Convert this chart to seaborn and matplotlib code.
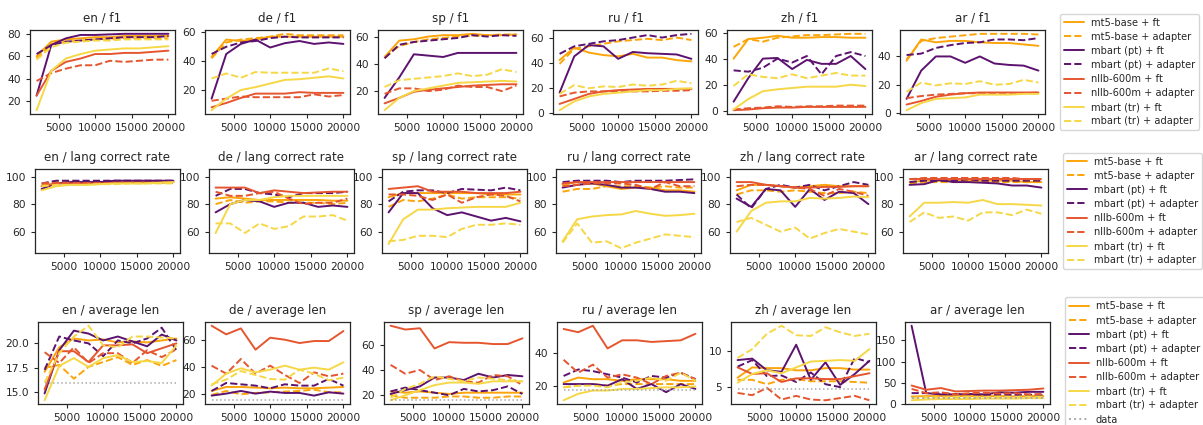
import matplotlib
matplotlib.use("Agg")
import matplotlib.pyplot as plt
from matplotlib.ticker import MaxNLocator
import pandas as pd
import seaborn as sns

sizes = [2000, 4000, 6000, 8000, 10000, 12000, 14000, 16000, 18000, 20000]
langs = ["en", "de", "sp", "ru", "zh", "ar"]
metrics = ["f1", "lang correct rate", "average len"]
models = ["mt5-base + ft", "mt5-base + adapter", "mbart (pt) + ft", "mbart (pt) + adapter",
          "nllb-600m + ft", "nllb-600m + adapter", "mbart (tr) + ft", "mbart (tr) + adapter"]
model_colors = ["#fca50a", "#fca50a", "#5c126e", "#5c126e",
                "#e5562f", "#e5562f", "#f6d746", "#f6d746"]

# ---- f1 (one list per model, in the order of `models`)
f1_en = [[60, 73, 75, 76, 77, 77, 78, 78, 78, 78],
         [58, 71, 73, 74, 75, 75, 76, 76, 76, 76],
         [25, 70, 76, 79, 79, 79.5, 80, 80, 80, 80],
         [62, 70, 73, 74, 75, 76, 77, 77, 77, 78],
         [25, 47, 55, 58, 62, 62, 63, 63, 64, 65],
         [38, 45, 49, 52, 52, 56, 55, 56, 57, 57],
         [12, 47, 58, 62, 65, 66, 67, 67, 68, 69],
         [57, 68, 72, 73, 74, 74, 75, 75, 75, 75]]
f1_de = [[43, 55, 54, 55, 57, 57, 57, 57, 57, 57],
         [42, 53, 55, 56, 57, 59, 58, 58, 58, 58],
         [14, 45, 52, 55, 49.5, 52.5, 54, 52, 53, 52],
         [45, 50, 53, 54, 56, 57, 56.5, 56.5, 56.5, 56.5],
         [8, 11, 14.5, 17.5, 17.5, 17.5, 18.5, 18, 18, 18],
         [12.5, 14, 15.5, 15, 15, 15, 15, 17, 15.5, 16.5],
         [6, 14, 20, 22, 24.5, 27, 27.5, 28.5, 29.5, 28],
         [28, 31.5, 28.5, 32.5, 32, 32, 32, 32, 35, 33]]
f1_sp = [[45, 57, 58, 60, 61, 61, 62, 61, 61, 61.5],
         [45, 53, 56, 58, 59, 60, 60.5, 61, 61.5, 61.5],
         [15, 30, 47, 46, 45, 48, 48, 48, 48, 48],
         [44, 54, 56, 57, 58, 59, 61, 60, 61, 60.5],
         [11, 15, 19.5, 21, 22, 23, 24, 24.5, 25, 25],
         [18, 22, 22, 20, 21, 24, 23, 23, 20, 24],
         [6, 15, 20, 22, 24, 26, 26.5, 27, 27.5, 27],
         [23, 28, 29, 30, 31, 33, 31, 32, 36, 34]]
f1_ru = [[42, 52, 48, 46, 45, 47, 44, 44, 42, 41],
         [39, 51, 53, 55, 57, 58, 59, 58, 60, 58],
         [16, 45, 54, 53, 43, 48.5, 47.5, 47, 46.5, 43],
         [47, 53, 55, 57, 58, 60, 62, 60, 62, 63],
         [7, 11, 15, 17, 18, 18.5, 19, 19, 19, 19],
         [13, 16, 17, 17, 17, 17, 17, 17.5, 17.5, 18],
         [2, 9, 13, 15, 16, 17, 18, 18, 19, 19.5],
         [15, 22, 19.5, 21, 20.5, 22.5, 21.5, 22.5, 25.5, 23.5]]
f1_zh = [[40, 55, 56, 57.5, 56, 56, 56.5, 56.5, 56, 56],
         [49, 55, 53, 56, 57, 58, 58, 58.5, 59, 59],
         [7, 25, 40, 40.5, 32, 39, 36, 36, 42, 32],
         [31, 30, 33, 40, 37, 42, 28, 42, 45, 42],
         [0.5, 1, 2, 2.5, 2.5, 3, 3, 3, 3, 3],
         [1, 2, 2.5, 3.5, 3, 3.5, 3.5, 4, 4, 4],
         [1, 9, 15, 16.5, 17.5, 18.5, 18.5, 18.5, 20, 19],
         [19, 28, 26, 25, 28, 25, 27, 29, 27, 27]]
f1_ar = [[37, 52, 50, 51, 51, 50, 49.5, 49.5, 48.5, 47.5],
         [38, 51, 53, 54, 55, 56, 56, 56, 56, 55.5],
         [10, 30, 40, 40, 35.5, 40, 35, 34, 33.5, 30],
         [41, 42, 46, 48, 49.5, 50, 52, 52, 51.5, 53],
         [6, 8.5, 11.5, 13, 14, 14.5, 14.5, 14.5, 14.5, 14.5],
         [10.5, 12, 13, 13.5, 14, 14, 14, 14, 14, 14.5],
         [2, 7, 10, 10.5, 11, 13, 13, 13, 13.5, 13.5],
         [15, 21.5, 19.5, 21, 20.5, 22.5, 20, 20.5, 23.5, 21.5]]

# ---- lang correct rate
lcr_en = [[93, 95, 96, 96, 96, 96, 96, 96, 96, 96],
          [94, 96, 96, 96, 96, 96, 96, 96, 96, 96],
          [91, 95, 96, 96, 96, 97, 97, 97, 97, 97],
          [95, 97, 97, 97, 97, 97, 97, 97, 97, 97],
          [93, 95, 95, 95, 95, 95.5, 95.5, 95.5, 95.5, 96],
          [95, 95, 95, 95, 95, 95, 95, 95, 95, 95],
          [90, 93, 94, 94, 94.5, 95, 95, 95, 95.5, 96],
          [93, 94, 94, 94, 94.5, 94.5, 95, 95, 95, 95]]
lcr_de = [[84, 85, 84, 83, 83, 83, 83, 83, 82.5, 82.5],
          [80, 83, 81, 82, 82, 81, 81, 81, 80, 81],
          [74, 80, 83, 82, 78, 81, 81, 78, 79, 78],
          [86, 91, 91, 88, 87, 85, 88, 88, 88, 89],
          [92, 92, 92, 88, 90, 89, 88, 88.5, 89, 89],
          [89, 86, 86, 88, 89, 84, 80, 81, 81, 84],
          [59, 80, 83, 83, 85, 86, 86, 86, 86, 86],
          [66, 66, 59, 66, 62, 64, 71, 71, 72, 68]]
lcr_sp = [[85, 88, 88, 88, 88, 88, 88, 87, 87, 87],
          [78, 83, 82, 84, 87, 84, 85, 85, 85, 84],
          [74, 88, 88, 77, 72, 74, 71, 68, 70, 67.5],
          [82, 89, 90, 90, 88, 91, 90.5, 90, 92, 90],
          [91, 92, 93, 89, 89, 89, 88, 88, 88, 89],
          [87, 87, 86, 83, 87, 81, 85, 87, 86, 82],
          [51, 69, 76, 76, 77, 77.5, 78, 78, 78, 81],
          [53, 54, 57, 57, 56, 62, 65, 65, 66, 65]]
lcr_ru = [[94, 96, 95, 93, 91, 92, 92, 90, 90, 89],
          [89, 91, 91, 93, 93, 93, 92, 93, 92, 92],
          [92, 94, 95, 94, 92, 92, 91, 89, 89, 88],
          [96, 97, 97, 97, 96, 97, 97, 97, 97.5, 98],
          [95, 96, 96, 96, 96, 96, 96, 96, 96, 96],
          [93, 94, 95, 95, 95, 94, 91, 96, 93, 93],
          [53, 69, 71, 72, 72.5, 75, 73, 71.5, 72, 73],
          [52, 66, 52, 53, 48, 52, 55, 58, 57, 56]]
lcr_zh = [[90, 94, 94, 93, 92, 93, 94, 93, 93, 93],
          [87, 90, 90, 89, 90, 89, 88, 88, 89, 88],
          [84, 78, 91, 90, 78, 91, 83, 89, 88, 80],
          [87, 77, 91, 94, 92, 94, 90, 93, 96, 94],
          [96, 96, 94, 93, 92, 92, 92.5, 92.5, 93, 93],
          [93, 94, 94, 93, 92, 91, 86, 91, 89, 86],
          [60, 75, 81, 82, 82, 84.5, 84, 84.5, 85.5, 85],
          [67, 70, 65, 60, 63, 55, 59, 62, 60, 58]]
lcr_ar = [[96, 97, 97, 97, 97, 97, 97, 97, 96, 96],
          [95, 96, 96, 96, 96, 96, 96, 96, 96, 96],
          [94, 94.5, 97.5, 96, 96, 95.5, 95, 93.5, 93.5, 92],
          [96, 97, 97, 97, 98, 97, 97, 97, 97, 97],
          [98, 98, 98, 98, 98, 98, 98, 98, 98, 98],
          [98, 99, 99, 99, 99, 99, 99, 99, 98, 98],
          [71, 81, 81, 81.5, 81, 83, 80, 80, 79.5, 79],
          [67, 74, 70, 71, 68, 74, 74, 72, 76, 73]]

# ---- average len
len_en = [[17.1, 19.6, 20.5, 20.3, 20.4, 20.1, 20.2, 20.1, 20.3, 20.5],
          [17.5, 17.8, 16.4, 17.6, 18.1, 18.6, 17.8, 18.3, 17.7, 18.3],
          [14.9, 19.3, 21.3, 21.0, 20.3, 20.7, 20.2, 19.7, 20.9, 20.3],
          [17.3, 20.7, 20.3, 20.0, 18.7, 20.3, 20.0, 20.5, 21.6, 19.3],
          [15.3, 19.2, 19.2, 18.1, 19.8, 19.8, 19.9, 19.0, 19.5, 20.0],
          [19.1, 18.0, 19.6, 18.0, 19.0, 19.0, 18.0, 19.3, 18.6, 19.4],
          [14.2, 17.7, 18.5, 17.6, 18.5, 18.8, 18.1, 18.2, 18.0, 19.8],
          [16.0, 19.0, 20.7, 21.8, 19.8, 19.6, 20.7, 20.7, 20.6, 20.5]]
len_de = [[22, 25, 25, 24.5, 24, 24.5, 24, 24, 24.5, 25],
          [19, 22, 19.5, 20.5, 21, 21.5, 22, 23, 21, 21],
          [18.5, 20, 22, 20, 21.5, 20.5, 20.5, 18.5, 21, 20],
          [22, 28, 27, 26, 24, 27, 26, 26, 31, 26],
          [71, 64.5, 69, 53, 62, 60.5, 58, 59.5, 59.5, 67],
          [41, 35, 46, 35, 41, 34, 28, 36, 33, 35],
          [26, 35, 39, 36, 38, 41, 38, 39.5, 38, 43.5],
          [27, 30.5, 37, 34, 31, 30.5, 38, 35, 30, 32]]
len_sp = [[23, 22, 23, 22, 21, 22, 22, 22, 22, 22],
          [20, 18, 18, 18, 19, 19, 18, 18, 19, 19],
          [21, 24, 27, 34, 34, 32, 37, 34, 36, 35],
          [23, 26, 24, 22, 20, 25, 23, 24, 27, 21],
          [75, 72, 73, 57, 62, 61.5, 61.5, 60.5, 60.5, 65],
          [44, 37, 40, 32, 35, 31, 30, 36, 35, 28],
          [16, 20, 24, 28, 30, 30, 29, 31, 31, 31],
          [18, 25, 29, 35, 33, 31, 34, 33, 32, 31]]
len_ru = [[22, 25, 24, 24, 23, 24, 24, 24, 23, 23],
          [19, 20, 21, 20, 21, 21, 21, 21, 21, 21],
          [21, 21, 21, 20, 24, 18, 21, 16, 21, 18],
          [26, 30, 29, 27, 25, 22, 26, 25, 28, 24],
          [55, 53, 57, 43, 48, 48, 47, 47.5, 48, 52],
          [36, 28, 33, 25, 27, 25, 21, 26, 28, 24],
          [11, 15, 17, 17, 18, 18, 18.5, 19, 19, 19.5],
          [19, 20, 20, 19, 22, 23, 25, 23, 28, 23]]
len_zh = [[6.3, 7.7, 7.6, 7.6, 7.3, 7.3, 7.6, 7.6, 7.4, 7.4],
          [6.0, 6.0, 5.4, 6.0, 6.1, 5.8, 5.8, 5.8, 5.7, 5.6],
          [8.7, 8.9, 7.3, 7.1, 10.8, 6.0, 8.4, 5.3, 6.8, 8.6],
          [7.8, 8.7, 6.5, 6.6, 5.7, 7.0, 5.4, 5.0, 9.0, 8.4],
          [7.7, 6.8, 6.9, 5.7, 6.2, 6.2, 6.1, 6.1, 6.5, 6.9],
          [4.2, 3.9, 4.9, 3.3, 3.8, 3.3, 3.2, 3.5, 3.8, 3.2],
          [5.6, 6.8, 7.3, 6.9, 7.7, 8.5, 8.6, 8.7, 8.6, 10.2],
          [9.0, 10.2, 12.3, 13.4, 12.1, 12.0, 13.2, 12.5, 12.0, 12.3]]
len_ar = [[17, 18, 18, 18, 18, 18, 18, 17, 18, 18],
          [15, 16, 16, 16, 16, 16, 16, 16, 16, 16],
          [185, 25, 22, 22, 23, 22, 27, 26, 28, 28],
          [25, 25, 24, 23, 22, 21, 22, 21, 21, 20],
          [43, 33, 37, 29, 30, 31, 31, 32, 33, 36],
          [35, 25, 27, 22, 25, 26, 24, 25, 22, 23],
          [8, 10, 11, 11, 11, 12, 12, 12, 13, 13],
          [14, 15, 15, 16, 16, 16, 16, 16, 17, 17]]

# average length of the reference data, one value per language
data_len = [16.0, 15.0, 16.0, 17.5, 4.7, 14.0]

panels = {
    "f1": [f1_en, f1_de, f1_sp, f1_ru, f1_zh, f1_ar],
    "lang correct rate": [lcr_en, lcr_de, lcr_sp, lcr_ru, lcr_zh, lcr_ar],
    "average len": [len_en, len_de, len_sp, len_ru, len_zh, len_ar],
}

rows = []
for metric in metrics:
    for lang, block in zip(langs, panels[metric]):
        for model, vals in zip(models, block):
            for s, v in zip(sizes, vals):
                rows.append((metric, lang, model, s, v))
df = pd.DataFrame(rows, columns=["metric", "lang", "model", "size", "value"])

palette = dict(zip(models, model_colors))
dashes = {m: (3.7, 1.6) if "adapter" in m else "" for m in models}

sns.set_style("ticks")
plt.rcParams.update({
    "xtick.labelsize": 7.7, "ytick.labelsize": 7.7, "axes.titlesize": 8.6,
    "legend.fontsize": 7.1, "xtick.major.size": 2.8, "ytick.major.size": 2.8,
    "axes.linewidth": 0.9,
})

W, H = 1203, 425
fig = plt.figure(figsize=(W / 100, H / 100), dpi=100)

# pixel layout (top, bottom, column lefts) for each row
row_tb = [(30, 114), (169, 253), (322, 404)]
row_left = [[30, 205, 378, 553, 727, 900],
            [35, 209, 382, 556, 730, 903],
            [38, 205, 384, 557, 731, 905]]
ax_w = 145

for r, metric in enumerate(metrics):
    top, bot = row_tb[r]
    for c, lang in enumerate(langs):
        x0 = row_left[r][c]
        ax = fig.add_axes([x0 / W, 1 - bot / H, ax_w / W, (bot - top) / H])
        sub = df[(df.metric == metric) & (df.lang == lang)]
        last = c == len(langs) - 1
        sns.lineplot(data=sub, x="size", y="value", hue="model", style="model",
                     hue_order=models, style_order=models, palette=palette,
                     dashes=dashes, linewidth=1.4, errorbar=None, ax=ax,
                     legend=last)
        handles = None
        if last:
            leg = ax.get_legend()
            handles = list(leg.legend_handles)
            labels = [t.get_text() for t in leg.get_texts()]
            leg.remove()
        if metric == "average len":
            dl = pd.DataFrame({"size": sizes, "value": [data_len[c]] * len(sizes)})
            sns.lineplot(data=dl, x="size", y="value", color="#aaaaaa",
                         linestyle=":", linewidth=1.1, ax=ax)
            if handles is not None:
                handles.append(ax.lines[-1])
                labels.append("data")
        if metric == "lang correct rate":
            ax.set_ylim(44.5, 105.5)
            ax.set_yticks([60, 80, 100])
        else:
            ax.yaxis.set_major_locator(MaxNLocator(nbins=4, steps=[1, 2, 2.5, 5, 10]))
        ax.set_xticks([5000, 10000, 15000, 20000])
        ax.set_title(f"{lang} / {metric}")
        ax.set_xlabel("")
        ax.set_ylabel("")
        if handles is not None:
            for h in handles:
                h.set_linewidth(1.4)
            ax.legend(handles, labels, loc="center left", bbox_to_anchor=(1.07, 0.5),
                      labelspacing=0.42, handletextpad=0.7, frameon=True)

fig.savefig("out.png", dpi=100)
